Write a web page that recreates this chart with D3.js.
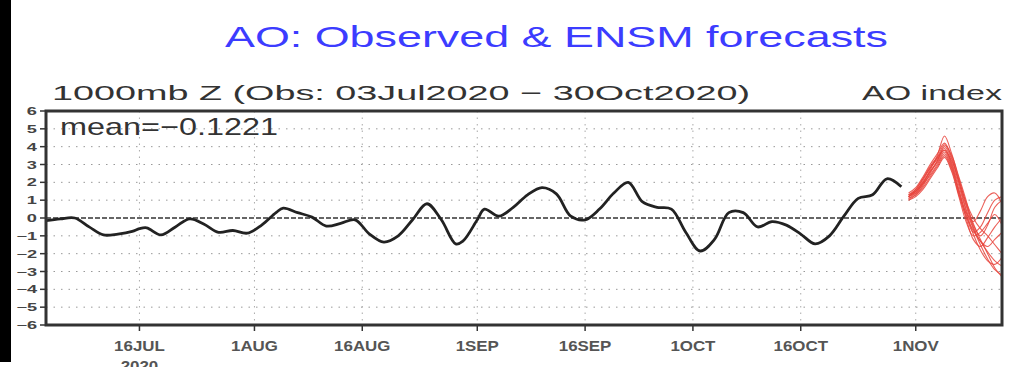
<!DOCTYPE html>
<html>
<head>
<meta charset="utf-8">
<title>AO: Observed &amp; ENSM forecasts</title>
<script src="https://d3js.org/d3.v7.min.js"></script>
<style>
body { margin: 0; background: #fff; font-family: "Liberation Sans", Arial, sans-serif; }
</style>
</head>
<body>
<script>
// day numbers are counted from 03 Jul 2020
var startDate = new Date(Date.UTC(2020, 6, 3));
var endDate = new Date(Date.UTC(2020, 10, 13));

var obsDays = [0, 2, 4, 6, 8, 10, 12, 13, 14, 16, 18, 20, 22, 24, 26, 28, 30, 32, 33, 35,
  37, 39, 41, 43, 45, 47, 49, 51, 53, 55, 57, 58, 60, 61, 63, 65, 67, 69, 71, 73,
  75, 77, 79, 81, 83, 85, 87, 89, 91, 93, 95, 97, 99, 101, 103, 105, 107, 109, 111, 113,
  115, 117, 119];
var obsValues = [-0.15, -0.05, 0.0, -0.5, -0.95, -0.9, -0.75, -0.6, -0.55, -0.95, -0.5, -0.05, -0.35, -0.8, -0.7, -0.85, -0.4, 0.3, 0.55, 0.3,
  0.05, -0.45, -0.3, -0.1, -0.9, -1.35, -1.0, -0.1, 0.8, -0.1, -1.45, -1.3, -0.1, 0.5, 0.1, 0.6, 1.3, 1.7, 1.35, 0.1,
  -0.1, 0.5, 1.4, 2.0, 0.9, 0.6, 0.5, -0.8, -1.85, -1.2, 0.3, 0.3, -0.5, -0.2, -0.4, -0.9, -1.45, -1.0, 0.1, 1.1,
  1.3, 2.2, 1.75];

var fcstDays = [120, 121, 122, 123, 124, 125, 126, 127, 128, 129, 130, 131, 132, 133];
var member01 = [1.2, 1.5, 2.0, 2.7, 3.5, 4.6, 3.6, 2.2, 0.8, -0.3, -1.2, -2.0, -2.8, -3.3];
var member02 = [1.1, 1.3, 1.8, 2.5, 3.2, 4.0, 3.3, 2.0, 0.5, -0.6, -1.5, -2.3, -2.9, -3.2];
var member03 = [1.3, 1.6, 2.2, 2.9, 3.4, 3.8, 3.0, 1.6, 0.2, -0.8, -0.5, 0.3, 1.0, 1.2];
var member04 = [1.2, 1.4, 1.9, 2.4, 3.0, 3.6, 2.8, 1.5, 0.3, -0.2, 0.4, 1.2, 1.4, 0.8];
var member05 = [1.0, 1.2, 1.6, 2.2, 2.8, 3.4, 2.6, 1.2, -0.2, -1.0, -0.8, -0.3, 0.2, -0.4];
var member06 = [1.4, 1.7, 2.3, 3.0, 3.6, 4.2, 3.4, 2.0, 0.7, -0.5, -1.3, -1.6, -1.2, -0.8];
var member07 = [1.2, 1.5, 2.1, 2.8, 3.3, 3.9, 3.1, 1.8, 0.4, -0.9, -1.8, -2.4, -2.6, -2.2];
var member08 = [1.1, 1.4, 1.9, 2.6, 3.1, 3.7, 2.9, 1.4, 0.0, -1.2, -1.6, -1.1, -0.5, 0.0];
var member09 = [1.3, 1.5, 2.0, 2.6, 3.2, 3.8, 3.2, 2.1, 0.9, 0.0, -0.6, -1.0, -1.5, -2.0];
var member10 = [1.2, 1.6, 2.2, 2.8, 3.4, 4.1, 3.5, 2.3, 1.0, -0.4, -1.0, -0.4, 0.6, 1.0];
var member11 = [1.0, 1.3, 1.7, 2.3, 2.9, 3.5, 2.7, 1.3, 0.1, -0.7, -1.3, -1.9, -2.4, -2.7];
var members = [member01, member02, member03, member04, member05, member06,
  member07, member08, member09, member10, member11];

var yTickValues = [-6, -5, -4, -3, -2, -1, 0, 1, 2, 3, 4, 5, 6];
var xTickDates = ["2020-07-16", "2020-08-01", "2020-08-16", "2020-09-01",
  "2020-09-16", "2020-10-01", "2020-10-16", "2020-11-01"];
var xTickLabels = ["16JUL", "1AUG", "16AUG", "1SEP", "16SEP", "1OCT", "16OCT", "1NOV"];

var meanText = "mean=\u22120.1221";

var width = 1024, height = 367;
var plotLeft = 46, plotRight = 1002, plotTop = 111, plotBottom = 325;

var svg = d3.select("body").append("svg")
  .attr("width", width)
  .attr("height", height);

function dayToDate(d) {
  return d3.utcDay.offset(startDate, d);
}

var x = d3.scaleUtc().domain([startDate, endDate]).range([plotLeft, plotRight]);
var y = d3.scaleLinear().domain([-6, 6]).range([plotBottom, plotTop]);

// black bar on the left edge
svg.append("rect")
  .attr("x", 0).attr("y", 0)
  .attr("width", 11).attr("height", 362)
  .attr("fill", "#000");

// titles
svg.append("text")
  .attr("x", 225).attr("y", 47)
  .attr("font-size", 30)
  .attr("fill", "#3c3cff")
  .attr("textLength", 663)
  .attr("lengthAdjust", "spacingAndGlyphs")
  .text("AO: Observed & ENSM forecasts");

svg.append("text")
  .attr("x", 52).attr("y", 100)
  .attr("font-size", 21)
  .attr("fill", "#333")
  .attr("textLength", 698)
  .attr("lengthAdjust", "spacingAndGlyphs")
  .text("1000mb Z (Obs: 03Jul2020 \u2212 30Oct2020)");

svg.append("text")
  .attr("x", 862).attr("y", 100)
  .attr("font-size", 21)
  .attr("fill", "#333")
  .attr("textLength", 140)
  .attr("lengthAdjust", "spacingAndGlyphs")
  .text("AO index");

// grid
var grid = svg.append("g");
grid.selectAll("line.h")
  .data(yTickValues.filter(function(v) { return v !== 0 && Math.abs(v) < 6; }))
  .enter().append("line")
  .attr("class", "h")
  .attr("x1", plotLeft).attr("x2", plotRight)
  .attr("y1", function(d) { return y(d); })
  .attr("y2", function(d) { return y(d); })
  .attr("stroke", "#999")
  .attr("stroke-width", 1)
  .attr("stroke-dasharray", "1.5,6");

grid.selectAll("line.v")
  .data(xTickDates)
  .enter().append("line")
  .attr("class", "v")
  .attr("x1", function(d) { return x(new Date(d)); })
  .attr("x2", function(d) { return x(new Date(d)); })
  .attr("y1", plotTop).attr("y2", plotBottom)
  .attr("stroke", "#aaa")
  .attr("stroke-width", 1)
  .attr("stroke-dasharray", "1.5,5");

// zero line
svg.append("line")
  .attr("x1", plotLeft).attr("x2", plotRight)
  .attr("y1", y(0)).attr("y2", y(0))
  .attr("stroke", "#666")
  .attr("stroke-width", 1.8)
  .attr("stroke-dasharray", "5,2");

// forecasts
var line = d3.line()
  .x(function(d) { return x(dayToDate(d[0])); })
  .y(function(d) { return y(d[1]); })
  .curve(d3.curveCatmullRom.alpha(0.5));

svg.append("g").selectAll("path")
  .data(members)
  .enter().append("path")
  .attr("d", function(m) { return line(fcstDays.map(function(d, i) { return [d, m[i]]; })); })
  .attr("fill", "none")
  .attr("stroke", "#e8443c")
  .attr("stroke-opacity", 0.85)
  .attr("stroke-width", 1.1);

// observed
svg.append("path")
  .attr("d", line(obsDays.map(function(d, i) { return [d, obsValues[i]]; })))
  .attr("fill", "none")
  .attr("stroke", "#222")
  .attr("stroke-width", 2.8)
  .attr("stroke-linejoin", "round");

// frame
svg.append("rect")
  .attr("x", plotLeft).attr("y", plotTop)
  .attr("width", plotRight - plotLeft).attr("height", plotBottom - plotTop)
  .attr("fill", "none")
  .attr("stroke", "#333")
  .attr("stroke-width", 3);

// y axis
var yAxis = svg.append("g");
yAxis.selectAll("line")
  .data(yTickValues)
  .enter().append("line")
  .attr("x1", plotLeft - 6).attr("x2", plotLeft)
  .attr("y1", function(d) { return y(d); })
  .attr("y2", function(d) { return y(d); })
  .attr("stroke", "#333")
  .attr("stroke-width", 1.5);
yAxis.selectAll("text")
  .data(yTickValues)
  .enter().append("text")
  .attr("transform", function(d) { return "translate(37," + (y(d) + 4) + ") scale(1.4,0.8)"; })
  .attr("text-anchor", "end")
  .attr("font-size", 13)
  .attr("font-weight", "bold")
  .attr("fill", "#444")
  .text(function(d) { return d < 0 ? "\u2212" + (-d) : d; });

// x axis
var xAxis = svg.append("g");
xAxis.selectAll("line")
  .data(xTickDates)
  .enter().append("line")
  .attr("x1", function(d) { return x(new Date(d)); })
  .attr("x2", function(d) { return x(new Date(d)); })
  .attr("y1", plotBottom).attr("y2", plotBottom + 6)
  .attr("stroke", "#333")
  .attr("stroke-width", 1.5);
xAxis.selectAll("text")
  .data(xTickDates)
  .enter().append("text")
  .attr("transform", function(d) { return "translate(" + x(new Date(d)) + ",351) scale(1.3,1.15)"; })
  .attr("text-anchor", "middle")
  .attr("font-size", 13)
  .attr("font-weight", "bold")
  .attr("fill", "#555")
  .text(function(d, i) { return xTickLabels[i]; });
svg.append("text")
  .attr("transform", "translate(" + x(new Date(xTickDates[0])) + ",371) scale(1.3,1.15)")
  .attr("text-anchor", "middle")
  .attr("font-size", 13)
  .attr("font-weight", "bold")
  .attr("fill", "#555")
  .text("2020");

// mean label
svg.append("text")
  .attr("x", 60).attr("y", 135)
  .attr("font-size", 24)
  .attr("fill", "#333")
  .attr("textLength", 218)
  .attr("lengthAdjust", "spacingAndGlyphs")
  .text(meanText);
</script>
</body>
</html>
